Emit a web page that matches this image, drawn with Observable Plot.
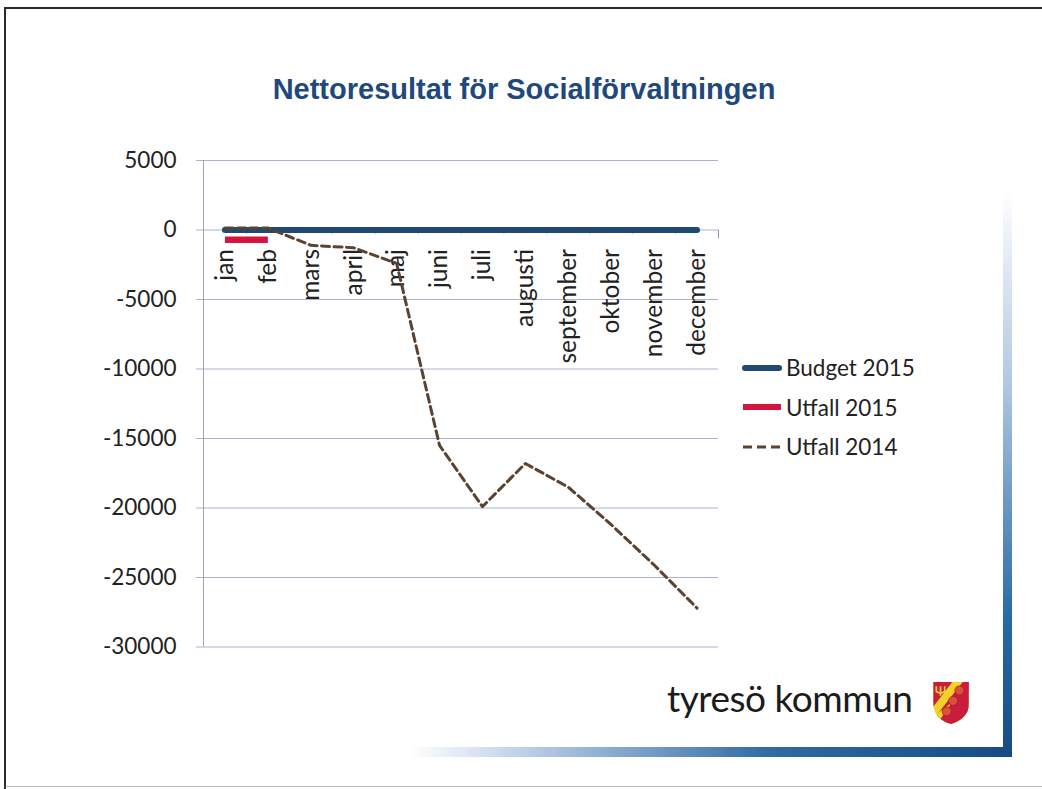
<!DOCTYPE html>
<html>
<head>
<meta charset="utf-8">
<script src="https://cdn.jsdelivr.net/npm/d3@7"></script>
<script src="https://cdn.jsdelivr.net/npm/@observablehq/plot@0.6"></script>
<style>
  html, body { margin: 0; padding: 0; background: #fff; }
  #page { position: relative; width: 1042px; height: 789px; overflow: hidden; background: #fff; font-family: Lato, "Open Sans", sans-serif; }
  #title { position: absolute; left: 0; width: 1042px; top: 73px; text-align: center; font-family: "Liberation Sans", Arial, sans-serif; font-weight: bold; font-size: 29px; color: #1f497d; margin-left: 3px; }
  #chart { position: absolute; left: 0; top: 120px; }
  #legend { position: absolute; left: 742px; top: 348px; font-size: 22.5px; color: #222; }
  .li { display: flex; align-items: center; height: 39.5px; }
  .li svg { margin-right: 4px; }
  #logo { position: absolute; left: 667px; top: 675px; font-size: 37px; color: #1b1b1b; font-family: Lato, sans-serif; letter-spacing: -0.5px; }
  #shield { position: absolute; left: 932px; top: 681px; }
  .frame { position: absolute; }
</style>
</head>
<body>
<div id="page">
  <div class="frame" style="left:4px; top:7px; width:1038px; height:2px; background:#2a2a2a;"></div>
  <div class="frame" style="left:4px; top:7px; width:2px; height:782px; background:#2a2a2a;"></div>
  <div class="frame" style="left:1003px; top:190px; width:9px; height:567px; background:linear-gradient(to bottom, rgba(29,79,135,0) 0%, rgba(120,160,205,0.6) 35%, #2a6aa6 75%, #174b85 100%);"></div>
  <div class="frame" style="left:410px; top:747px; width:602px; height:10px; background:linear-gradient(to right, rgba(29,79,135,0) 0%, rgba(130,165,210,0.7) 25%, #2f6aa3 60%, #174b85 100%);"></div>
  <div class="frame" style="left:4px; top:786px; width:1038px; height:1px; background:#777; opacity:0.5;"></div>
  <div id="title">Nettoresultat för Socialförvaltningen</div>
  <div id="chart"></div>
  <div id="legend"></div>
  <div id="logo">tyresö kommun</div>
  <svg id="shield" width="38" height="44" viewBox="0 0 36 42">
    <defs><clipPath id="sh"><path d="M1,1 H35 V22 C35,33 26,39 18,41 C10,39 1,33 1,22 Z"/></clipPath></defs>
    <g clip-path="url(#sh)">
      <rect x="0" y="0" width="36" height="42" fill="#f3d12b"/>
      <path d="M0,0 H20 L0,26 Z" fill="#c81e3c"/>
      <path d="M30,0 H36 V42 H0 V38 Z" fill="#c81e3c"/>
      <path d="M36,8 L36,26 L6,44 L-2,36 Z" fill="#f3d12b"/>
      <path d="M33,0 L36,0 L36,30 L12,42 L4,42 Z" fill="#c81e3c"/>
      <circle cx="26" cy="9" r="4.3" fill="#d9533c" stroke="#b01a32" stroke-width="0.8"/>
      <circle cx="20" cy="19" r="4.3" fill="#d9533c" stroke="#b01a32" stroke-width="0.8"/>
      <circle cx="14" cy="29" r="4.3" fill="#d9533c" stroke="#b01a32" stroke-width="0.8"/>
      <path d="M4,5 V10 Q8,13 12,10 V5 M8,5 V14" stroke="#f3d12b" stroke-width="1.6" fill="none"/>
    </g>
  </svg>
</div>
<script>
// ---- data ----
const months = ["jan","feb","mars","april","maj","juni","juli","augusti","september","oktober","november","december"];
const budget2015 = [0,0,0,0,0,0,0,0,0,0,0,0];
const utfall2015Months = ["jan","feb"];
const utfall2015 = [-700,-700];
const utfall2014 = [150,150,-1100,-1280,-2400,-15500,-19900,-16800,-18500,-21200,-24100,-27200];
const yTicks = [5000,0,-5000,-10000,-15000,-20000,-25000,-30000];
const seriesNames = ["Budget 2015","Utfall 2015","Utfall 2014"];
const seriesColors = ["#1f4a72","#d4163e","#5a4330"];

// ---- tables built from the arrays ----
const budgetData = months.map((m,i)=>({month:m, value:budget2015[i]}));
const u15Data = utfall2015Months.map((m,i)=>({month:m, value:utfall2015[i]}));
const u14Data = months.map((m,i)=>({month:m, value:utfall2014[i]}));

const W = 740, H = 580, ML = 203, MR = 22, MT = 40, MB = 53.5;
const step = (W - ML - MR) / months.length;
const gridColor = "#a9b3cf";

const chart = Plot.plot({
  width: W, height: H,
  marginLeft: ML, marginRight: MR, marginTop: MT, marginBottom: MB,
  style: {fontFamily: "Lato, 'Open Sans', sans-serif", background: "transparent"},
  x: {type: "point", domain: months, padding: 0.5, round: false, axis: null},
  y: {domain: [-30000, 5000], axis: null},
  marks: [
    Plot.gridY(yTicks, {stroke: gridColor, strokeOpacity: 1, strokeWidth: 1}),
    Plot.axisY(yTicks, {tickSize: 7, tickPadding: 20, stroke: gridColor, fill: "#222", fontSize: 22.5, label: null, tickFormat: d => String(d)}),
    Plot.ruleX([months[0]], {x: d => d, y1: 5000, y2: -30000, dx: -step/2, stroke: "#9aa4c0"}),
    Plot.ruleX(months.slice(0, -1), {x: d => d, y1: 0, y2: -300, dx: step/2, stroke: "#8f99b8"}),
    Plot.ruleX([months[months.length-1]], {x: d => d, y1: 0, y2: -650, dx: step/2, stroke: "#8f99b8"}),
    Plot.text(months, {x: d => d, y: 0, text: d => d, rotate: -90, textAnchor: "end", dy: 19, fontSize: 24.5, fill: "#222"}),
    Plot.line(budgetData, {x: "month", y: "value", stroke: seriesColors[0], strokeWidth: 6, strokeLinecap: "round"}),
    Plot.line(u15Data, {x: "month", y: "value", stroke: seriesColors[1], strokeWidth: 6.5, strokeLinecap: "butt"}),
    Plot.line(u14Data, {x: "month", y: "value", stroke: seriesColors[2], strokeWidth: 3, strokeDasharray: "8,4.5"})
  ]
});
document.getElementById("chart").appendChild(chart);

// ---- legend ----
const legend = document.getElementById("legend");
seriesNames.forEach((name, i) => {
  const row = document.createElement("div");
  row.className = "li";
  let sw;
  if (i === 2) {
    sw = `<svg width="40" height="10"><line x1="1" y1="5" x2="40" y2="5" stroke="${seriesColors[i]}" stroke-width="3" stroke-dasharray="9,5"/></svg>`;
  } else {
    sw = `<svg width="40" height="10"><line x1="${i===0?3:1}" y1="5" x2="${i===0?37:39}" y2="5" stroke="${seriesColors[i]}" stroke-width="6" stroke-linecap="${i===0?'round':'butt'}"/></svg>`;
  }
  row.innerHTML = sw + `<span>${name}</span>`;
  legend.appendChild(row);
});
</script>
</body>
</html>
